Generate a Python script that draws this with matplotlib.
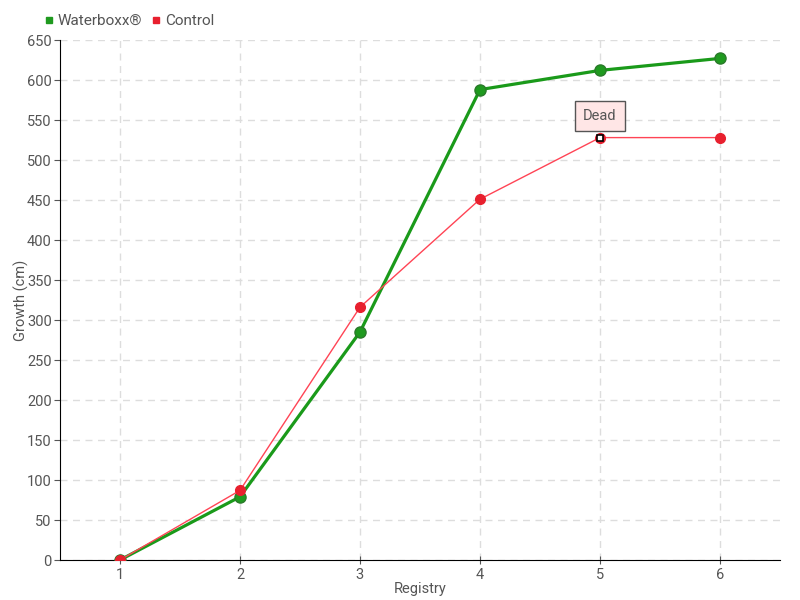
import matplotlib
matplotlib.use("Agg")
import matplotlib.pyplot as plt
from matplotlib.lines import Line2D

registry = [1, 2, 3, 4, 5, 6]
waterboxx = [0, 79, 285, 588, 612, 627]
control = [0, 87, 316, 451, 528, 528]

plt.rcParams['font.family'] = ['Roboto', 'DejaVu Sans']
fig = plt.figure(figsize=(8, 6), dpi=100)
ax = fig.add_axes([60/800, 40/600, 720/800, 520/600])

txt = '#555555'
ax.plot(registry, waterboxx, color='#1a9a1a', lw=2.3, marker='o', ms=8,
        markerfacecolor='#1f9a1f', markeredgecolor='#2a7a2a', zorder=3)
ax.plot(registry, control, color='#ff4455', lw=1, marker='o', ms=7,
        markerfacecolor='#e8202e', markeredgecolor='#e8202e', zorder=4)
# highlighted point
ax.plot(registry[4], control[4], marker='s', ms=5, markerfacecolor='white',
        markeredgecolor='black', mew=1.2, zorder=5)
ax.annotate('Dead', xy=(registry[4], control[4]), xytext=(0, 15.5),
            textcoords='offset points', ha='center', va='center',
            fontsize=10.5, color=txt,
            bbox=dict(boxstyle='square,pad=0.55', fc='#ffe6e6', ec='#555555', lw=1),
            zorder=6)

ax.set_xlim(0.5, 6.5)
ax.set_ylim(0, 650)
ax.set_xticks(registry)
ax.set_yticks(range(0, 651, 50))
ax.grid(True, color='#dddddd', linestyle=(0, (5, 4)), lw=1)
ax.set_axisbelow(True)
for s in ['top', 'right']:
    ax.spines[s].set_visible(False)
ax.spines['left'].set_color('black')
ax.spines['bottom'].set_color('black')
ax.tick_params(colors=txt, labelsize=10.5, length=4, pad=2)
ax.tick_params(axis='x', direction='inout', length=6, pad=3)
for lab in ax.get_xticklabels() + ax.get_yticklabels():
    lab.set_color(txt)
ax.set_xlabel('Registry', color=txt, fontsize=10.5, labelpad=0)
ax.set_ylabel('Growth (cm)', color=txt, fontsize=10.5)
ax.yaxis.set_label_coords(-31/720, 0.5)

handles = [Line2D([], [], ls='none', marker='s', ms=5, color='#1f9a1f'),
           Line2D([], [], ls='none', marker='s', ms=5, color='#e8202e')]
fig.legend(handles, ['Waterboxx®', 'Control'], loc='upper left',
           bbox_to_anchor=(44/800, 1 - 14/600), ncol=2, frameon=False,
           fontsize=11, handlelength=0.6, handletextpad=0.3, columnspacing=0.6,
           labelcolor=txt, borderaxespad=0, borderpad=0)
fig.savefig('out.png', dpi=100)
